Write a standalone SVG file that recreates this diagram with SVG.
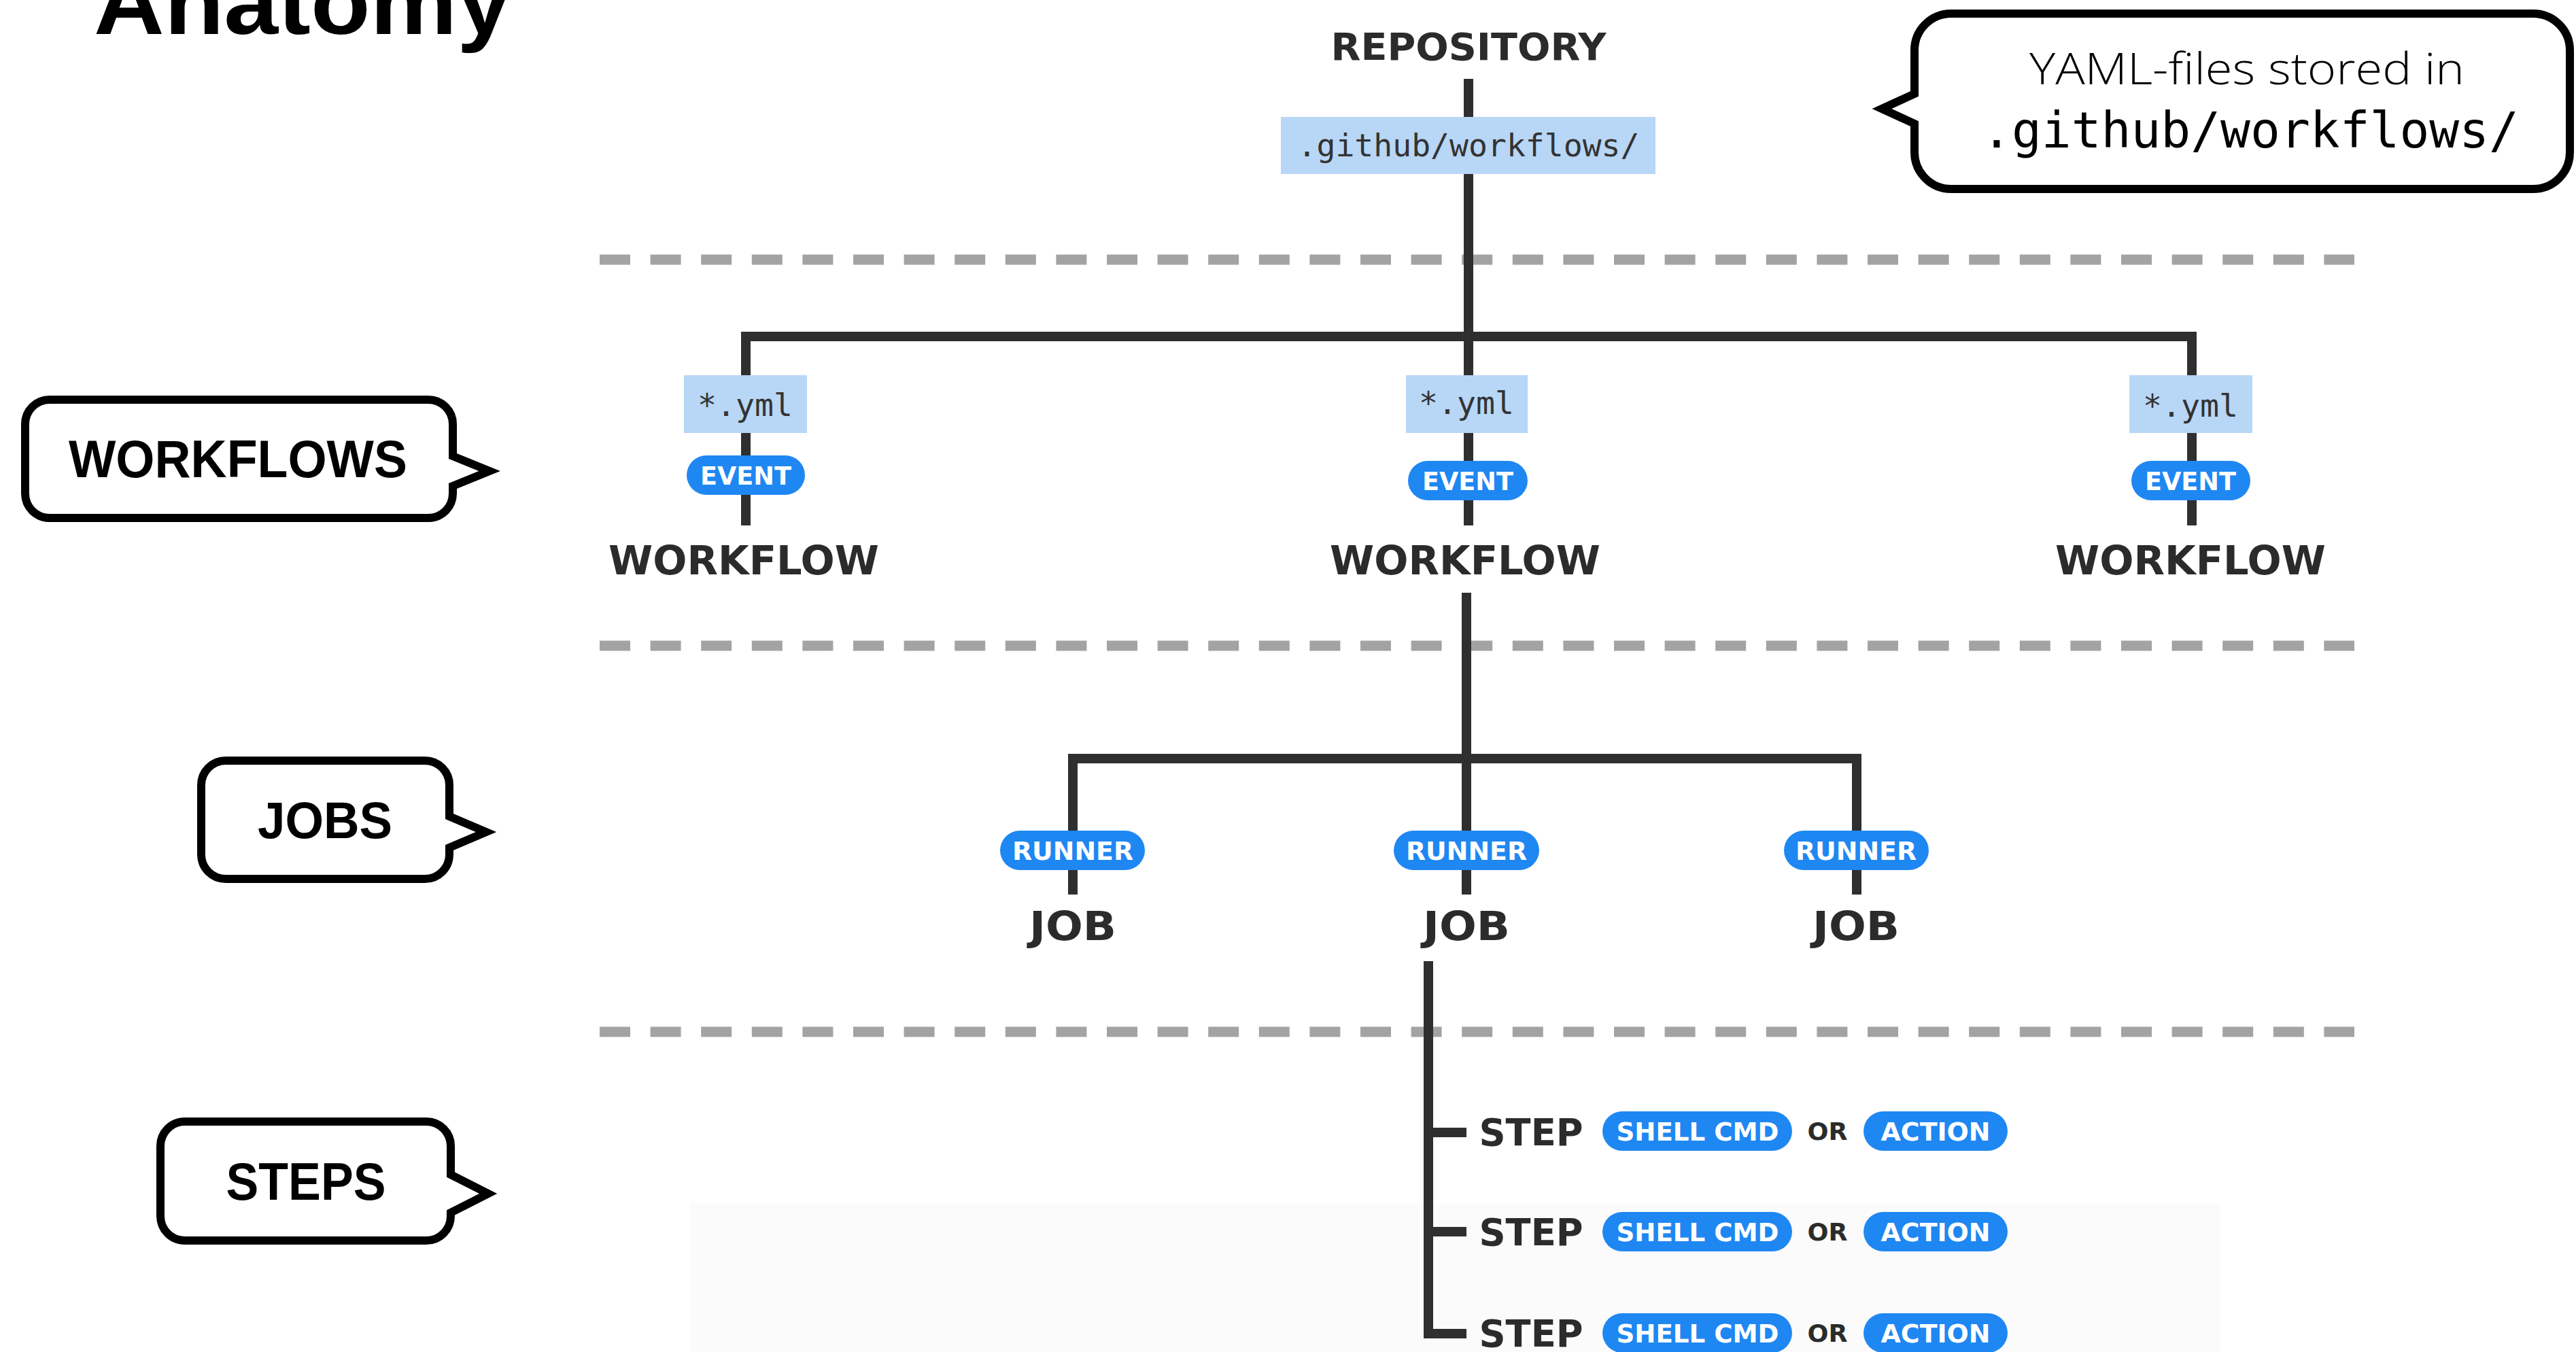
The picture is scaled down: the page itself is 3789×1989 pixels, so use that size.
<svg xmlns="http://www.w3.org/2000/svg" width="3789" height="1989" viewBox="0 0 3789 1989">
<style>
.title{font-family:"Liberation Sans",Arial,sans-serif;font-weight:bold;fill:#000}
.lbl{font-family:"DejaVu Sans","Liberation Sans",sans-serif;font-weight:bold;fill:#2b2b2b;text-anchor:middle}
.mono{font-family:"DejaVu Sans Mono","Liberation Mono",monospace;fill:#333;text-anchor:middle}
.pill{fill:#1f87f2}
.ptxt{font-family:"DejaVu Sans","Liberation Sans",sans-serif;font-weight:bold;fill:#fff;font-size:37px;text-anchor:middle}
.file{fill:#b8d6f6}
.line{fill:none;stroke:#2f2f2f;stroke-width:14;stroke-linejoin:miter;stroke-linecap:butt}
.dash{fill:none;stroke:#a3a3a3;stroke-width:15;stroke-dasharray:45 29.6}
.callout{fill:#fff;stroke:#000;stroke-width:12;stroke-linejoin:miter;stroke-miterlimit:8}
.ctxt{font-family:"Liberation Sans",Arial,sans-serif;font-weight:bold;fill:#000;text-anchor:middle}
</style>
<rect width="3789" height="1989" fill="#fff"/>
<rect x="1015" y="1770" width="2250" height="219" fill="#fbfbfb"/>
<text class="title" x="138" y="50" font-size="135" textLength="614" lengthAdjust="spacingAndGlyphs">Anatomy</text>

<g id="separators">
<line class="dash" x1="882" y1="382" x2="3463" y2="382"/>
<line class="dash" x1="882" y1="950" x2="3463" y2="950"/>
<line class="dash" x1="882" y1="1518" x2="3463" y2="1518"/>
</g>

<g id="connectors">
<path class="line" d="M2160 116 V773"/>
<path class="line" d="M1097 773 V495 H3224 V773" stroke-width="15"/>
<path class="line" d="M2157 872 V1316"/>
<path class="line" d="M1578 1316 V1116 H2731 V1316"/>
<path class="line" d="M2101 1414 V1962 H2157"/>
<path class="line" d="M2101 1666 H2157"/>
<path class="line" d="M2101 1812 H2157"/>
</g>

<g id="repository">
<text class="lbl" x="2160" y="88" font-size="56" textLength="405" lengthAdjust="spacingAndGlyphs">REPOSITORY</text>
<rect class="file" x="1884" y="172" width="551" height="84"/>
<text class="mono" x="2160" y="230" font-size="46" textLength="503" lengthAdjust="spacingAndGlyphs">.github/workflows/</text>
</g>

<g id="workflow-left">
<rect class="file" x="1006" y="552" width="181" height="85"/>
<text class="mono" x="1096" y="612" font-size="46" textLength="140" lengthAdjust="spacingAndGlyphs">*.yml</text>
<rect class="pill" x="1010" y="670" width="174" height="58" rx="29"/>
<text class="ptxt" x="1097" y="712.5" textLength="134" lengthAdjust="spacingAndGlyphs">EVENT</text>
<text class="lbl" x="1094" y="845" font-size="59" textLength="398" lengthAdjust="spacingAndGlyphs">WORKFLOW</text>
</g>
<g id="workflow-middle">
<rect class="file" x="2068" y="552" width="179" height="85"/>
<text class="mono" x="2157" y="609" font-size="46" textLength="140" lengthAdjust="spacingAndGlyphs">*.yml</text>
<rect class="pill" x="2071" y="678" width="176" height="58" rx="29"/>
<text class="ptxt" x="2159" y="720.5" textLength="134" lengthAdjust="spacingAndGlyphs">EVENT</text>
<text class="lbl" x="2155" y="845" font-size="59" textLength="398" lengthAdjust="spacingAndGlyphs">WORKFLOW</text>
</g>
<g id="workflow-right">
<rect class="file" x="3132" y="552" width="181" height="85"/>
<text class="mono" x="3222" y="613" font-size="46" textLength="140" lengthAdjust="spacingAndGlyphs">*.yml</text>
<rect class="pill" x="3135" y="678" width="175" height="58" rx="29"/>
<text class="ptxt" x="3222" y="720.5" textLength="134" lengthAdjust="spacingAndGlyphs">EVENT</text>
<text class="lbl" x="3222" y="845" font-size="59" textLength="398" lengthAdjust="spacingAndGlyphs">WORKFLOW</text>
</g>

<g id="job-left">
<rect class="pill" x="1471" y="1222" width="213" height="58" rx="29"/>
<text class="ptxt" x="1578" y="1264.5" textLength="178" lengthAdjust="spacingAndGlyphs">RUNNER</text>
<text class="lbl" x="1578" y="1383" font-size="59" textLength="128" lengthAdjust="spacingAndGlyphs">JOB</text>
</g>
<g id="job-middle">
<rect class="pill" x="2050" y="1222" width="214" height="58" rx="29"/>
<text class="ptxt" x="2157" y="1264.5" textLength="178" lengthAdjust="spacingAndGlyphs">RUNNER</text>
<text class="lbl" x="2157" y="1383" font-size="59" textLength="128" lengthAdjust="spacingAndGlyphs">JOB</text>
</g>
<g id="job-right">
<rect class="pill" x="2624" y="1222" width="213" height="58" rx="29"/>
<text class="ptxt" x="2730" y="1264.5" textLength="178" lengthAdjust="spacingAndGlyphs">RUNNER</text>
<text class="lbl" x="2730" y="1383" font-size="59" textLength="128" lengthAdjust="spacingAndGlyphs">JOB</text>
</g>

<g id="step-1">
<text class="lbl" x="2252" y="1685" font-size="55" textLength="153" lengthAdjust="spacingAndGlyphs">STEP</text>
<rect class="pill" x="2357" y="1635" width="279" height="58" rx="29"/>
<text class="ptxt" x="2497" y="1677.5" textLength="239" lengthAdjust="spacingAndGlyphs">SHELL CMD</text>
<text class="lbl" x="2688" y="1676.5" font-size="35" textLength="59" lengthAdjust="spacingAndGlyphs">OR</text>
<rect class="pill" x="2741" y="1635" width="212" height="58" rx="29"/>
<text class="ptxt" x="2847" y="1677.5" textLength="161" lengthAdjust="spacingAndGlyphs">ACTION</text>
</g>
<g id="step-2">
<text class="lbl" x="2252" y="1832" font-size="55" textLength="153" lengthAdjust="spacingAndGlyphs">STEP</text>
<rect class="pill" x="2357" y="1783" width="279" height="58" rx="29"/>
<text class="ptxt" x="2497" y="1825.5" textLength="239" lengthAdjust="spacingAndGlyphs">SHELL CMD</text>
<text class="lbl" x="2688" y="1824.5" font-size="35" textLength="59" lengthAdjust="spacingAndGlyphs">OR</text>
<rect class="pill" x="2741" y="1783" width="212" height="58" rx="29"/>
<text class="ptxt" x="2847" y="1825.5" textLength="161" lengthAdjust="spacingAndGlyphs">ACTION</text>
</g>
<g id="step-3">
<text class="lbl" x="2252" y="1981" font-size="55" textLength="153" lengthAdjust="spacingAndGlyphs">STEP</text>
<rect class="pill" x="2357" y="1932" width="279" height="58" rx="29"/>
<text class="ptxt" x="2497" y="1974.5" textLength="239" lengthAdjust="spacingAndGlyphs">SHELL CMD</text>
<text class="lbl" x="2688" y="1973.5" font-size="35" textLength="59" lengthAdjust="spacingAndGlyphs">OR</text>
<rect class="pill" x="2741" y="1932" width="212" height="58" rx="29"/>
<text class="ptxt" x="2847" y="1974.5" textLength="161" lengthAdjust="spacingAndGlyphs">ACTION</text>
</g>

<g id="callout-workflows">
<path class="callout" d="M73 588 H630 A36 36 0 0 1 666 624 V671 L720 693 L666 715 V726 A36 36 0 0 1 630 762 H73 A36 36 0 0 1 37 726 V624 A36 36 0 0 1 73 588 Z"/>
<text class="ctxt" x="350" y="702" font-size="77" textLength="498" lengthAdjust="spacingAndGlyphs">WORKFLOWS</text>
</g>
<g id="callout-jobs">
<path class="callout" d="M332 1119 H625 A36 36 0 0 1 661 1155 V1201 L715 1224 L661 1247 V1257 A36 36 0 0 1 625 1293 H332 A36 36 0 0 1 296 1257 V1155 A36 36 0 0 1 332 1119 Z"/>
<text class="ctxt" x="478" y="1233" font-size="76" textLength="198" lengthAdjust="spacingAndGlyphs">JOBS</text>
</g>
<g id="callout-steps">
<path class="callout" d="M272 1650 H627 A36 36 0 0 1 663 1686 V1728 L718 1756 L663 1784 V1789 A36 36 0 0 1 627 1825 H272 A36 36 0 0 1 236 1789 V1686 A36 36 0 0 1 272 1650 Z"/>
<text class="ctxt" x="450" y="1765" font-size="77" textLength="235" lengthAdjust="spacingAndGlyphs">STEPS</text>
</g>
<g id="callout-yaml">
<path class="callout" stroke-width="10" d="M2870 20 H3726 A54 54 0 0 1 3780 74 V224 A54 54 0 0 1 3726 278 H2870 A54 54 0 0 1 2816 224 V182 L2768 160 L2816 138 V74 A54 54 0 0 1 2870 20 Z"/>
<text x="3305" y="124" font-family="'Open Sans','Liberation Sans',sans-serif" font-weight="300" font-size="64" fill="#000" text-anchor="middle" textLength="640" lengthAdjust="spacingAndGlyphs">YAML-files stored in</text>
<text x="3310" y="217" font-family="'DejaVu Sans Mono','Liberation Mono',monospace" font-size="73" fill="#000" text-anchor="middle" textLength="790" lengthAdjust="spacingAndGlyphs">.github/workflows/</text>
</g>
</svg>
